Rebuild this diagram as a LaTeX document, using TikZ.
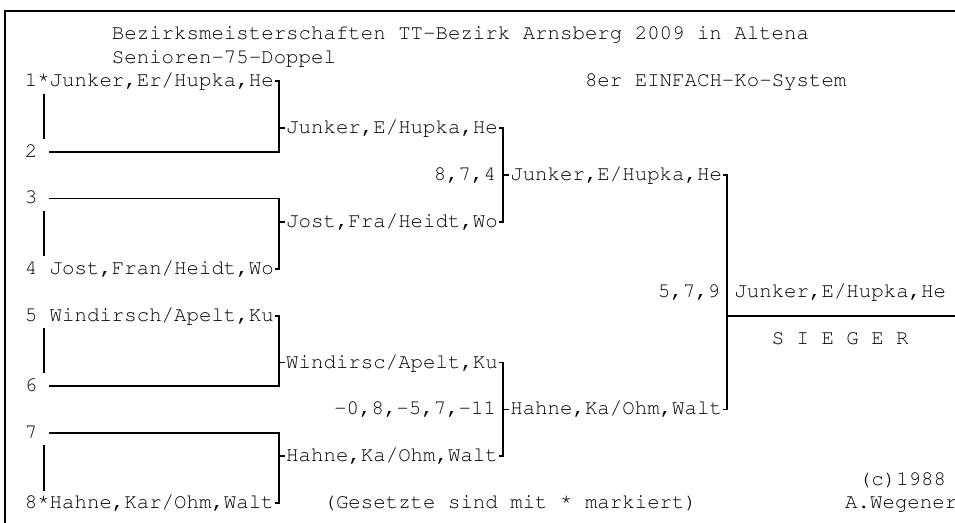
\documentclass[tikz,border=0pt]{standalone}
\usepackage[T1]{fontenc}
\usepackage{courier}
\usepackage{tikz}
\usetikzlibrary{positioning, calc}

\newcommand{\drawfont}{\fontsize{10.375}{11.72}\selectfont\ttfamily}
\newcommand{\seedmark}{\raisebox{0.18em}{*}}

\begin{document}
\begin{tikzpicture}[x=6.225pt, y=-11.72pt, line width=0.9pt,
    entry/.style={inner sep=0pt, anchor=west, font=\drawfont,
                  text height=8.6pt, text depth=3.1pt}]
  \useasboundingbox (0.08,-0.469) rectangle (76.79,21.84);

  % Frame
  \draw (0.5,22) -- (0.5,0) -- (77,0);

  % Heading
  \node[entry] (title) at (9,1) {Bezirksmeisterschaften TT-Bezirk Arnsberg 2009 in Altena};
  \node[entry] (event) at (9,2) {Senioren-75-Doppel};
  \node[entry] (system) at (47,3) {8er EINFACH-Ko-System};

  % Draw positions
  \node[entry] (n1) at (2,3) {1};
  \node[entry] (n2) at (2,6) {2};
  \node[entry] (n3) at (2,8) {3};
  \node[entry] (n4) at (2,11) {4};
  \node[entry] (n5) at (2,13) {5};
  \node[entry] (n6) at (2,16) {6};
  \node[entry] (n7) at (2,18) {7};
  \node[entry] (n8) at (2,21) {8};

  \node[entry] (s1) at (3,3) {\seedmark Junker,Er/Hupka,He};
  \node[entry] (s4) at (4,11) {Jost,Fran/Heidt,Wo};
  \node[entry] (s5) at (4,13) {Windirsch/Apelt,Ku};
  \node[entry] (s8) at (3,21) {\seedmark Hahne,Kar/Ohm,Walt};
  \coordinate (e2) at (4,6);
  \coordinate (e3) at (4,8);
  \coordinate (e6) at (4,16);
  \coordinate (e7) at (4,18);

  \draw ($(n1.south east)+(0.5,0)$) -- ($(n2.north east)+(0.5,0)$);
  \draw ($(n3.south east)+(0.5,0)$) -- ($(n4.north east)+(0.5,0)$);
  \draw ($(n5.south east)+(0.5,0)$) -- ($(n6.north east)+(0.5,0)$);
  \draw ($(n7.south east)+(0.5,0)$) -- ($(n8.north east)+(0.5,0)$);

  % First round
  \node[entry] (q1) at (23,5) {Junker,E/Hupka,He};
  \node[entry] (q2) at (23,9) {Jost,Fra/Heidt,Wo};
  \node[entry] (q3) at (23,15) {Windirsc/Apelt,Ku};
  \node[entry] (q4) at (23,19) {Hahne,Ka/Ohm,Walt};
  \coordinate (j1) at (22.5,5);
  \coordinate (j2) at (22.5,9);
  \coordinate (j3) at (22.5,15);
  \coordinate (j4) at (22.5,19);

  \draw (s1.east) -| (j1) |- (e2);
  \draw (e3) -| (j2) |- (s4.east);
  \draw (s5.east) -| (j3) |- (e6);
  \draw (e7) -| (j4) |- (s8.east);
  \draw (j1) -- (q1.west);
  \draw (j2) -- (q2.west);
  \draw (j3) -- (q3.west);
  \draw (j4) -- (q4.west);

  % Semi finals
  \node[entry] (h1) at (41,7) {Junker,E/Hupka,He};
  \node[entry] (h2) at (41,17) {Hahne,Ka/Ohm,Walt};
  \coordinate (ja) at (40.5,7);
  \coordinate (jb) at (40.5,17);
  \node[entry, left=3.1125pt of ja] (sa) {8,7,4};
  \node[entry, left=3.1125pt of jb] (sb) {-0,8,-5,7,-11};

  \draw (q1.east) -| (ja) |- (q2.east);
  \draw (q3.east) -| (jb) |- (q4.east);
  \draw (ja) -- (h1.west);
  \draw (jb) -- (h2.west);

  % Final
  \coordinate (jf) at (58.5,13);
  \coordinate (edge) at (77,13);
  \node[entry] (champ) at (59,12) {Junker,E/Hupka,He};
  \node[entry, anchor=east] (sf) at (58,12) {5,7,9};
  \node[entry] (sieger) at (62,14) {S I E G E R};

  \draw (h1.east) -| (jf) |- (h2.east);
  \draw (jf) -- (edge);

  % Footer
  \node[entry] (note) at (26,21) {(Gesetzte sind mit \seedmark\ markiert)};
  \node[entry] (year) at (69,20) {(c)1988};
  \node[entry] (author) at (67.9,21) {A.Wegener};
\end{tikzpicture}
\end{document}
